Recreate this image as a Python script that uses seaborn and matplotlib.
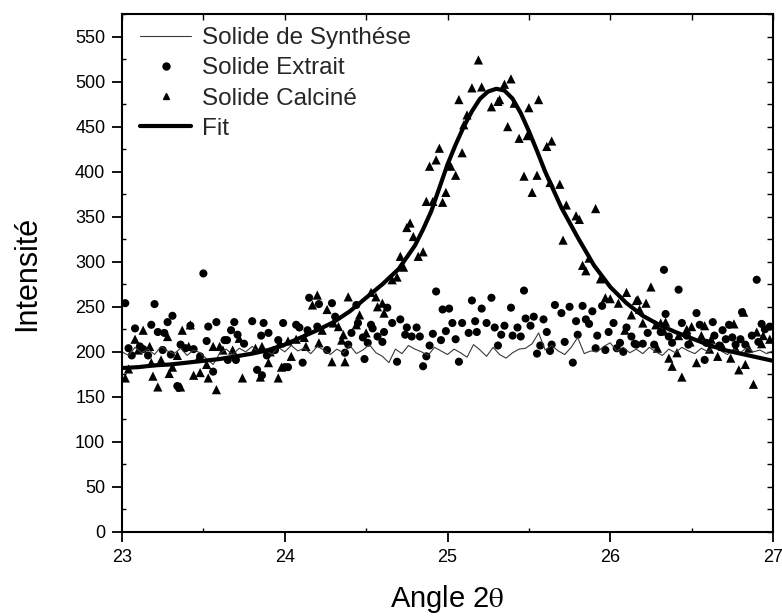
import matplotlib
matplotlib.use("Agg")
import matplotlib.pyplot as plt
from matplotlib.lines import Line2D
from matplotlib.ticker import MultipleLocator, NullFormatter
import numpy as np
import seaborn as sns

# --- Solide de Synthèse (thin trace) ---
synth_angle = [round(23 + 0.04 * i, 2) for i in range(101)]
synth_int = [200, 196, 205, 199, 203, 197, 206, 201, 198, 204, 196, 202, 199, 192, 186, 198,
             203, 197, 204, 200, 206, 199, 203, 197, 205, 200, 207, 201, 204, 198, 206, 202,
             197, 203, 199, 207, 198, 202, 208, 199, 195, 188, 203, 198, 207, 203, 200, 196,
             205, 201, 197, 203, 199, 194, 208, 202, 195, 205, 197, 193, 199, 203, 204, 209,
             221, 202, 207, 201, 197, 205, 216, 198, 201, 200, 206, 210, 201, 205, 199, 203,
             198, 205, 200, 196, 203, 199, 205, 201, 198, 204, 200, 206, 201, 197, 203, 199,
             205, 200, 202, 198, 201]

# --- Solide Extrait (circles) ---
extrait_angle = [23.02, 23.04, 23.06, 23.08, 23.11, 23.13, 23.16, 23.18, 23.20, 23.22, 23.25,
                 23.26, 23.28, 23.30, 23.31, 23.34, 23.35, 23.36, 23.39, 23.42, 23.44, 23.48,
                 23.50, 23.52, 23.53, 23.56, 23.58, 23.63, 23.645, 23.65, 23.67, 23.69, 23.70,
                 23.71, 23.75, 23.80, 23.83, 23.855, 23.86, 23.87, 23.89, 23.90, 23.94, 23.96,
                 23.99, 24.00, 24.02, 24.07, 24.09, 24.11, 24.14, 24.15, 24.20, 24.21, 24.26,
                 24.29, 24.31, 24.37, 24.39, 24.41, 24.44, 24.45, 24.48, 24.49, 24.51, 24.53,
                 24.54, 24.57, 24.60, 24.61, 24.63, 24.66, 24.69, 24.71, 24.74, 24.75, 24.78,
                 24.81, 24.83, 24.85, 24.87, 24.89, 24.91, 24.93, 24.96, 24.97, 24.99, 25.01,
                 25.03, 25.05, 25.07, 25.09, 25.13, 25.15, 25.17, 25.18, 25.21, 25.24, 25.27,
                 25.29, 25.31, 25.33, 25.35, 25.39, 25.40, 25.43, 25.45, 25.47, 25.48, 25.51,
                 25.53, 25.55, 25.57, 25.59, 25.61, 25.63, 25.64, 25.66, 25.70, 25.72, 25.75,
                 25.77, 25.79, 25.80, 25.83, 25.85, 25.87, 25.89, 25.91, 25.92, 25.95, 25.97,
                 25.99, 26.02, 26.04, 26.06, 26.08, 26.10, 26.13, 26.15, 26.16, 26.20, 26.23,
                 26.27, 26.31, 26.33, 26.34, 26.36, 26.38, 26.42, 26.44, 26.47, 26.48, 26.53,
                 26.55, 26.58, 26.59, 26.63, 26.64, 26.67, 26.69, 26.71, 26.73, 26.75, 26.77,
                 26.80, 26.81, 26.83, 26.87, 26.90, 26.91, 26.93, 26.95, 26.98]
extrait_int = [254, 204, 196, 226, 206, 203, 196, 230, 253, 222, 202,
               221, 233, 197, 240, 162, 160, 208, 204, 229, 203, 195,
               287, 212, 228, 178, 233, 213, 213, 191, 224, 233, 191,
               219, 209, 234, 180, 218, 174, 232, 196, 221, 202, 213,
               232, 183, 183, 230, 227, 188, 224, 260, 228, 253, 202,
               254, 239, 199, 208, 221, 252, 232, 216, 192, 210, 230,
               226, 217, 211, 222, 249, 232, 189, 236, 219, 227, 217,
               227, 217, 184, 195, 207, 220, 267, 213, 247, 223, 248,
               232, 214, 189, 232, 221, 257, 234, 222, 248, 232, 260,
               227, 207, 219, 229, 249, 218, 227, 217, 268, 237, 229,
               239, 198, 207, 236, 222, 201, 208, 252, 243, 211, 250,
               188, 234, 219, 251, 236, 231, 245, 204, 218, 251, 202,
               222, 232, 204, 210, 200, 227, 217, 209, 208, 209, 221,
               208, 222, 291, 242, 217, 210, 269, 232, 218, 208, 243,
               230, 191, 210, 233, 218, 207, 224, 214, 230, 216, 208,
               214, 244, 208, 218, 280, 211, 231, 225, 228]

# --- Solide Calciné (triangles) ---
calcine_angle = [23.02, 23.04, 23.08, 23.10, 23.13, 23.17, 23.18, 23.19, 23.22, 23.24, 23.28,
                 23.29, 23.31, 23.34, 23.36, 23.37, 23.41, 23.42, 23.44, 23.47, 23.48, 23.52,
                 23.53, 23.56, 23.58, 23.60, 23.62, 23.68, 23.72, 23.74, 23.82, 23.85, 23.86,
                 23.90, 23.91, 23.96, 23.97, 23.98, 24.02, 24.04, 24.07, 24.12, 24.13, 24.17,
                 24.20, 24.21, 24.23, 24.26, 24.29, 24.30, 24.33, 24.35, 24.36, 24.37, 24.39,
                 24.44, 24.46, 24.50, 24.53, 24.56, 24.57, 24.60, 24.61, 24.66, 24.69, 24.71,
                 24.73, 24.75, 24.77, 24.79, 24.82, 24.85, 24.87, 24.89, 24.91, 24.93, 24.95,
                 24.97, 24.99, 25.02, 25.05, 25.07, 25.09, 25.10, 25.12, 25.15, 25.19, 25.21,
                 25.27, 25.31, 25.32, 25.35, 25.37, 25.39, 25.41, 25.44, 25.47, 25.49, 25.50,
                 25.52, 25.55, 25.56, 25.61, 25.63, 25.64, 25.69, 25.71, 25.73, 25.79, 25.81,
                 25.83, 25.85, 25.87, 25.91, 25.94, 25.97, 26.00, 26.05, 26.09, 26.10, 26.13,
                 26.16, 26.17, 26.18, 26.20, 26.22, 26.25, 26.28, 26.29, 26.31, 26.33, 26.34,
                 26.36, 26.38, 26.41, 26.42, 26.44, 26.47, 26.49, 26.50, 26.53, 26.56, 26.58,
                 26.61, 26.62, 26.66, 26.69, 26.74, 26.76, 26.77, 26.79, 26.82, 26.83, 26.85,
                 26.88, 26.90, 26.93, 26.94, 26.98]
calcine_int = [171, 181, 214, 202, 224, 206, 188, 173, 161, 191, 217,
               176, 183, 196, 161, 224, 206, 230, 174, 193, 177, 186,
               171, 206, 158, 206, 202, 202, 215, 171, 204, 172, 206,
               188, 200, 171, 210, 183, 212, 195, 214, 216, 206, 252,
               263, 210, 224, 247, 189, 232, 228, 213, 219, 189, 261,
               230, 241, 221, 266, 261, 250, 254, 243, 280, 283, 306,
               294, 338, 343, 328, 306, 311, 367, 406, 367, 413, 426,
               366, 377, 406, 396, 480, 421, 452, 463, 493, 524, 494,
               472, 478, 480, 497, 450, 503, 476, 437, 395, 440, 471,
               377, 396, 480, 428, 388, 434, 386, 324, 363, 351, 347,
               296, 290, 304, 359, 281, 260, 259, 254, 224, 266, 241,
               257, 258, 247, 232, 254, 272, 230, 204, 232, 223, 233,
               193, 184, 199, 218, 172, 225, 211, 228, 188, 218, 229,
               203, 214, 195, 206, 193, 231, 204, 180, 244, 186, 204,
               164, 222, 209, 218, 214]

# --- Fit curve ---
fit_angle = [23.0, 23.1, 23.2, 23.3, 23.4, 23.5, 23.6, 23.7, 23.8, 23.9, 24.0, 24.1, 24.2,
             24.3, 24.4, 24.5, 24.6, 24.7, 24.8, 24.85, 24.9, 24.95, 25.0, 25.05, 25.1, 25.15,
             25.2, 25.25, 25.3, 25.35, 25.4, 25.45, 25.5, 25.55, 25.6, 25.65, 25.7, 25.8,
             25.9, 26.0, 26.1, 26.2, 26.3, 26.4, 26.5, 26.6, 26.7, 26.8, 26.9, 27.0]
fit_int = [182, 183, 185, 186, 188, 190, 192, 195, 198, 202, 208, 216, 224,
           233, 245, 260, 275, 292, 318, 336, 356, 382, 408, 430, 450, 467,
           481, 489, 492, 490, 481, 465, 445, 423, 400, 380, 360, 327,
           296, 272, 254, 240, 230, 222, 215, 208, 202, 198, 194, 190]

sns.set_theme(style="white")
plt.rcParams["font.family"] = ["Liberation Sans", "DejaVu Sans"]
plt.rcParams["mathtext.fontset"] = "stix"

fig = plt.figure(figsize=(7.82, 6.16), dpi=100)
ax = fig.add_axes([122 / 782, 1 - 532 / 616, (773 - 122) / 782, (532 - 14) / 616])

sns.lineplot(x=synth_angle, y=synth_int, ax=ax, color="#3a3a3a", linewidth=0.8,
             estimator=None, sort=False)
sns.scatterplot(x=extrait_angle, y=extrait_int, ax=ax, marker="o", s=34, color="black",
                edgecolor="none", linewidth=0, legend=False)
sns.scatterplot(x=calcine_angle, y=calcine_int, ax=ax, marker="^", s=44, color="black",
                edgecolor="none", linewidth=0, legend=False)
sns.lineplot(x=fit_angle, y=fit_int, ax=ax, color="black", linewidth=3.0,
             estimator=None, sort=False)

ax.set_xlim(23, 27)
ax.set_ylim(0, 575)
ax.xaxis.set_major_locator(MultipleLocator(1))
ax.xaxis.set_minor_locator(MultipleLocator(0.5))
ax.yaxis.set_major_locator(MultipleLocator(50))
ax.yaxis.set_minor_locator(MultipleLocator(25))

for sp in ax.spines.values():
    sp.set_visible(True)
    sp.set_color("black")
    sp.set_linewidth(1.5)

ax.tick_params(which="major", direction="out", length=7, width=1.3, color="black",
               labelsize=13, labelcolor="black", pad=5)
ax.tick_params(which="minor", direction="in", length=3, width=1.0, color="black")
ax.tick_params(which="both", bottom=True, left=True, top=False, right=False)

# inward ticks on the top and right frame
top = ax.secondary_xaxis("top")
top.xaxis.set_major_locator(MultipleLocator(0.5))
top.xaxis.set_major_formatter(NullFormatter())
top.tick_params(direction="in", length=4, width=1.0, color="black")
top.spines["top"].set_visible(False)
right = ax.secondary_yaxis("right")
right.yaxis.set_major_locator(MultipleLocator(25))
right.yaxis.set_major_formatter(NullFormatter())
right.tick_params(direction="in", length=4, width=1.0, color="black")
right.spines["right"].set_visible(False)

ax.set_xlabel("Angle 2$\\mathrm{\\theta}$", fontsize=21, color="black")
ax.set_ylabel("Intensité", fontsize=22, color="black")
ax.xaxis.set_label_coords(0.5, -0.098)
ax.yaxis.set_label_coords(-0.122, 0.5)

handles = [
    Line2D([], [], color="#3a3a3a", linewidth=0.8),
    Line2D([], [], color="black", marker="o", markersize=5, linestyle="none"),
    Line2D([], [], color="black", marker="^", markersize=5, linestyle="none"),
    Line2D([], [], color="black", linewidth=3.0),
]
labels = ["Solide de Synthése", "Solide Extrait", "Solide Calciné", "Fit"]
ax.legend(handles, labels, loc="upper left", bbox_to_anchor=(0.011, 0.996), frameon=False,
          fontsize=17.5, handlelength=2.1, handletextpad=0.45, labelspacing=0.34,
          borderpad=0.45, borderaxespad=0.0)

fig.savefig("out.png", dpi=100, facecolor="white")
